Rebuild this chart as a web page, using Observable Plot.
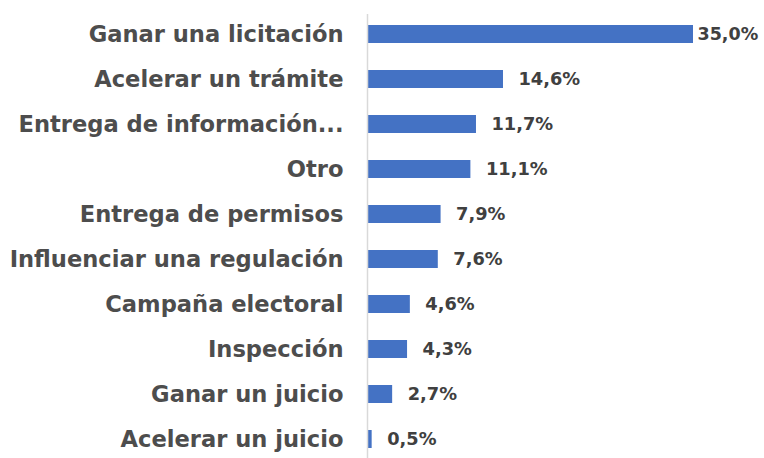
<!DOCTYPE html>
<html><head><meta charset="utf-8">
<script src="https://cdn.jsdelivr.net/npm/d3@7"></script>
<script src="https://cdn.jsdelivr.net/npm/@observablehq/plot@0.6"></script>
<style>body{margin:0;background:#fff}</style>
</head><body><div id="chart"></div>
<script>
const categories = ["Ganar una licitación","Acelerar un trámite","Entrega de información...","Otro","Entrega de permisos","Influenciar una regulación","Campaña electoral","Inspección","Ganar un juicio","Acelerar un juicio"];
const values = [35.0, 14.6, 11.7, 11.1, 7.9, 7.6, 4.6, 4.3, 2.7, 0.5];
const labels = ["35,0%","14,6%","11,7%","11,1%","7,9%","7,6%","4,6%","4,3%","2,7%","0,5%"];
const data = categories.map((c,i)=>({cat:c, value:values[i], label:labels[i]}));
const maxV = d3.max(values);
const chart = Plot.plot({
  width: 764, height: 458,
  marginLeft: 367, marginRight: 71, marginTop: 14, marginBottom: 0,
  style: {fontFamily: "DejaVu Sans", fontWeight: "bold", color: "#4d4d4d", background: "#fff"},
  x: {domain: [0, 35], axis: null},
  y: {domain: categories, paddingInner: 0.6, paddingOuter: 0.18, label: null, axis: null},
  marks: [
    Plot.axisY({tickSize: 0, tickPadding: 24, fontSize: 22.6, fontWeight: "bold", fill: "#4d4d4d", label: null}),
    Plot.barX(data, {x: "value", y: "cat", fill: "#4472C4"}),
    Plot.ruleX([0], {stroke: "#d9d9d9", strokeWidth: 1.5}),
    Plot.text(data.filter(d=>d.value!==maxV), {x: "value", y: "cat", text: "label", textAnchor: "start", dx: 15, fontSize: 17.8, fontWeight: "bold", fill: "#404040"}),
    Plot.text(data.filter(d=>d.value===maxV), {x: "value", y: "cat", text: "label", textAnchor: "start", dx: 4, fontSize: 17.5, fontWeight: "bold", fill: "#404040"})
  ]
});
document.getElementById("chart").append(chart);
</script></body></html>
